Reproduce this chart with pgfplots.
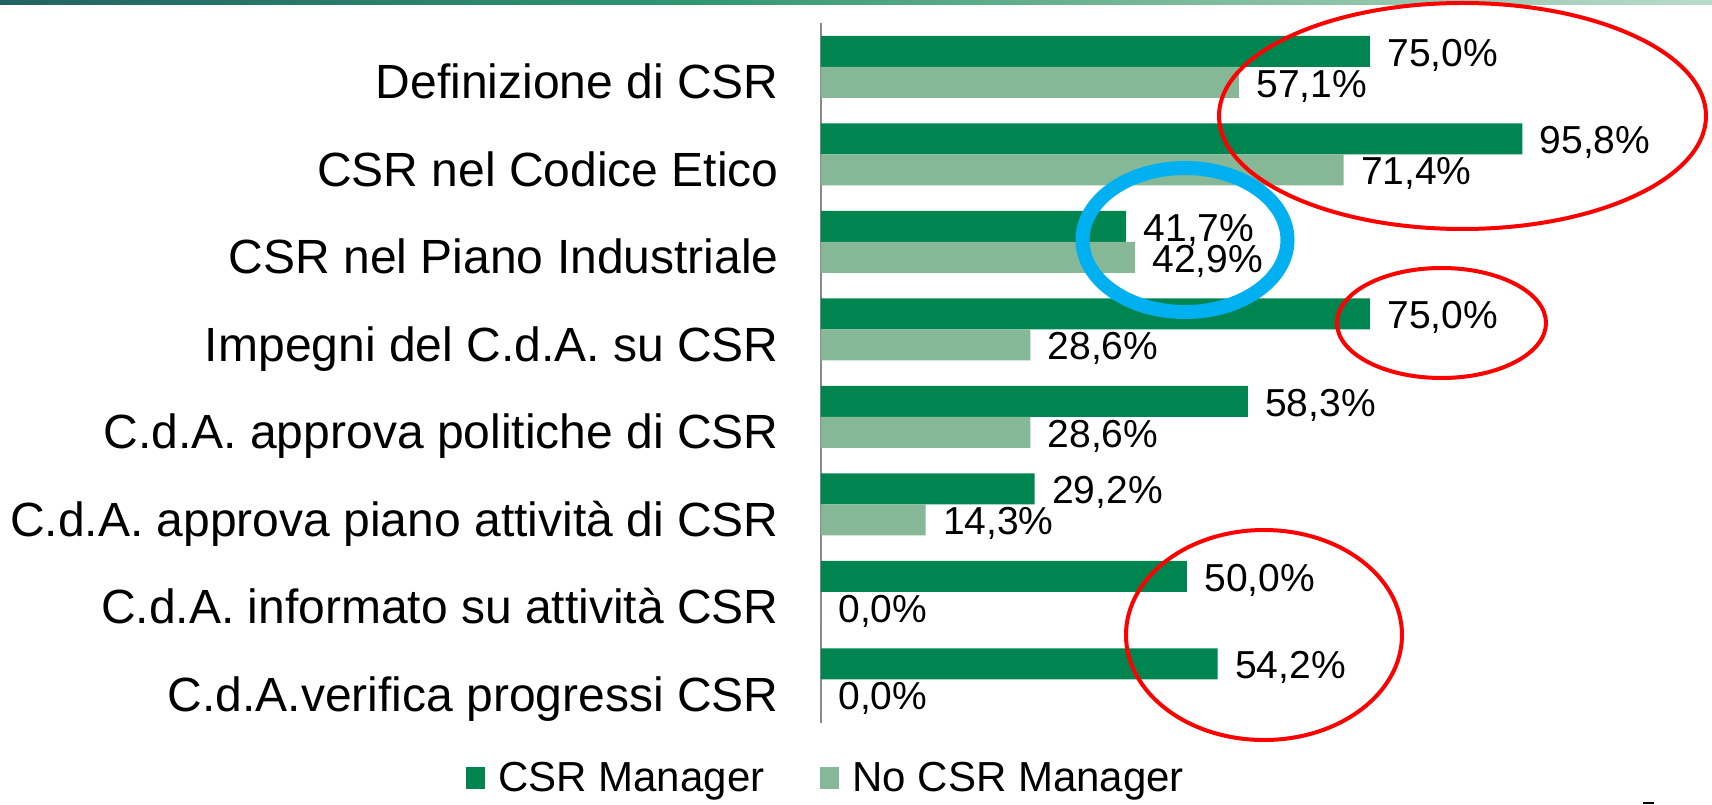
\documentclass[border=0pt]{standalone}
\usepackage{fontspec}
\setmainfont{Liberation Sans}
\usepackage{pgfplots}
\pgfplotsset{compat=1.18}
\definecolor{csrdark}{HTML}{008551}
\definecolor{csrlight}{HTML}{86B897}
\definecolor{redmark}{HTML}{FF0000}
\definecolor{bluemark}{HTML}{00B0F0}
\definecolor{axisgray}{HTML}{898989}
\definecolor{barnavy}{HTML}{1C2A4E}
\definecolor{barteal}{HTML}{236262}
\definecolor{bargreen}{HTML}{2F9670}
\definecolor{barmid}{HTML}{7DBB9C}
\pgfdeclarehorizontalshading{topbar}{100bp}{color(0bp)=(barnavy); color(25bp)=(barteal); color(45bp)=(bargreen); color(60bp)=(barmid); color(92bp)=(white); color(100bp)=(white)}
\begin{document}
\begin{tikzpicture}
\useasboundingbox (-410.5pt,-40.5pt) rectangle (445.5pt,361.5pt);
\shade[shading=topbar] (-410.5pt,359pt) rectangle (445.5pt,361.5pt);
\begin{axis}[
  scale only axis, width=366pt, height=350pt,
  xmin=0, xmax=100, ymin=0.5, ymax=8.5,
  y dir=reverse,
  axis x line=none,
  axis y line=left,
  y axis line style={-, draw=axisgray, line width=0.75pt},
  ytick={1,...,8},
  yticklabels={Definizione di CSR, CSR nel Codice Etico, CSR nel Piano Industriale, Impegni del C.d.A. su CSR, C.d.A. approva politiche di CSR, C.d.A. approva piano attività di CSR, C.d.A. informato su attività CSR, C.d.A.verifica progressi CSR},
  major tick length=0pt,
  ytick style={draw=none},
  yticklabel style={font=\fontsize{24}{28}\selectfont, anchor=base east, inner sep=0pt, xshift=-21pt, yshift=-16pt},
  xbar, bar width=15.5pt,
  point meta=x,
  nodes near coords={\pgfmathprintnumber[fixed, fixed zerofill, precision=1, use comma]{\pgfplotspointmeta}\%},
  /pgf/number format/assume math mode=true,
  every node near coord/.append style={font=\fontsize{19.5}{23}\selectfont, anchor=base west, inner sep=0pt, xshift=8.5pt, yshift=-7.5pt, text=black},
  clip=false,
  legend columns=2,
  legend style={at={(-0.485,-0.0786)}, anchor=west, draw=none, fill=none, inner sep=0pt,
    font=\fontsize{21}{25}\selectfont, nodes={inner sep=0pt},
    /tikz/every odd column/.append style={column sep=6.5pt},
    /tikz/every even column/.append style={column sep=28pt}},
]
\addplot[xbar, fill=csrdark, draw=none, bar shift=7.75pt,
  legend image code/.code={\fill[csrdark] (0pt,-5.5pt) rectangle (9.5pt,5.5pt);}]
  coordinates {(75.0,1) (95.8,2) (41.7,3) (75.0,4) (58.3,5) (29.2,6) (50.0,7) (54.2,8)};
\addplot[xbar, fill=csrlight, draw=none, bar shift=-7.75pt,
  legend image code/.code={\fill[csrlight] (0pt,-5.5pt) rectangle (9.5pt,5.5pt);}]
  coordinates {(57.1,1) (71.4,2) (42.9,3) (28.6,4) (28.6,5) (14.3,6) (0.0,7) (0.0,8)};
\legend{CSR Manager, No CSR Manager}
\end{axis}
\draw[redmark, line width=2pt] (320.75pt,303.5pt) ellipse [x radius=121.75pt, y radius=56.5pt];
\draw[redmark, line width=2pt] (310.25pt,200pt) ellipse [x radius=52.25pt, y radius=27.5pt];
\draw[redmark, line width=2pt] (221.5pt,44pt) ellipse [x radius=69pt, y radius=52.5pt];
\draw[bluemark, line width=7pt] (182pt,241.5pt) ellipse [x radius=51.25pt, y radius=36pt];
\fill[black] (411pt,-40.5pt) rectangle (416.5pt,-39.5pt);
\end{tikzpicture}
\end{document}
